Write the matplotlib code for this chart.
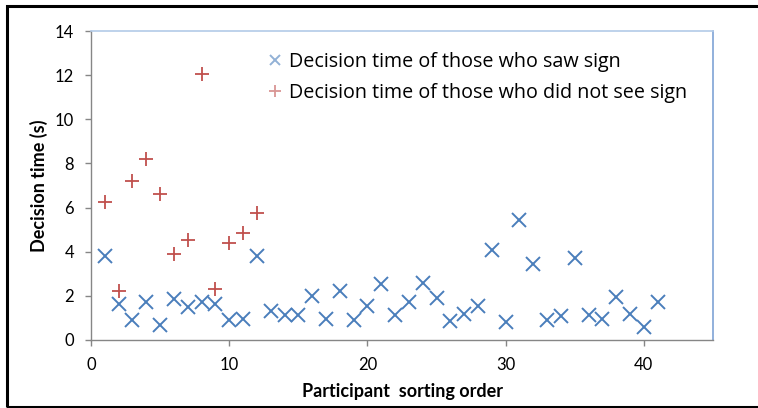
import matplotlib
matplotlib.use("Agg")
import matplotlib.pyplot as plt
from matplotlib.patches import Rectangle

# participants who saw the sign (x markers)
saw_order = list(range(1, 42))
saw_time = [3.8, 1.65, 0.9, 1.7, 0.7, 1.85, 1.5, 1.7, 1.65, 0.9,
            0.95, 3.8, 1.3, 1.15, 1.15, 2.0, 0.95, 2.2, 0.9, 1.55,
            2.55, 1.15, 1.7, 2.6, 1.9, 0.85, 1.2, 1.55, 4.1, 0.8,
            5.45, 3.45, 0.9, 1.1, 3.7, 1.15, 0.95, 1.95, 1.2, 0.6,
            1.7]

# participants who did not see the sign (+ markers)
not_saw_order = list(range(1, 13))
not_saw_time = [6.25, 2.2, 7.2, 8.2, 6.6, 3.9, 4.55, 12.05, 2.3, 4.4, 4.85, 5.75]

x_ticks = [0, 10, 20, 30, 40]
y_ticks = [0, 2, 4, 6, 8, 10, 12, 14]

blue = "#4a7ebb"
red = "#c0504d"
gray = "#868686"

plt.rcParams['font.family'] = ['Lato', 'DejaVu Sans']

fig = plt.figure(figsize=(7.58, 4.08), dpi=100)
ax = fig.add_axes([91 / 758, 1 - 340 / 408, 622 / 758, 309 / 408])

ax.plot(saw_order, saw_time, linestyle='none', marker='x', markersize=9.5,
        markeredgewidth=1.4, color=blue, label="Decision time of those who saw sign")
ax.plot(not_saw_order, not_saw_time, linestyle='none', marker='+', markersize=10,
        markeredgewidth=1.3, color=red, label="Decision time of those who did not see sign")

ax.set_xlim(0, 45)
ax.set_ylim(0, 14)
ax.set_xticks(x_ticks)
ax.set_yticks(y_ticks)
ax.tick_params(direction='out', length=4.3, width=1, color=gray, pad=8,
               labelsize=12, labelcolor='black')

for side in ['left', 'bottom']:
    ax.spines[side].set_color(gray)
    ax.spines[side].set_linewidth(1)
ax.spines['top'].set_color('#b3cbe8')
ax.spines['right'].set_color('#7fa3d6')
ax.spines['top'].set_linewidth(1.2)
ax.spines['right'].set_linewidth(1.2)

ax.set_xlabel("Participant  sorting order", fontsize=13, fontweight='bold', labelpad=7)
ax.set_ylabel("Decision time (s)", fontsize=13, fontweight='bold', labelpad=5)

leg = ax.legend(loc='upper left', bbox_to_anchor=(0.265, 0.963), frameon=False,
                prop={'family': ['Open Sans', 'DejaVu Sans'], 'size': 14.2},
                handlelength=0.9, handletextpad=0.3,
                labelspacing=0.52, borderpad=0, markerscale=0.8)
for h in leg.legend_handles:
    h.set_alpha(0.6)

# black frame around the figure
fig.patches.append(Rectangle((7 / 758, 1 / 408), 760 / 758, 401 / 408,
                             transform=fig.transFigure, fill=False,
                             edgecolor='black', linewidth=2.2))

fig.savefig("out.png", dpi=100)
